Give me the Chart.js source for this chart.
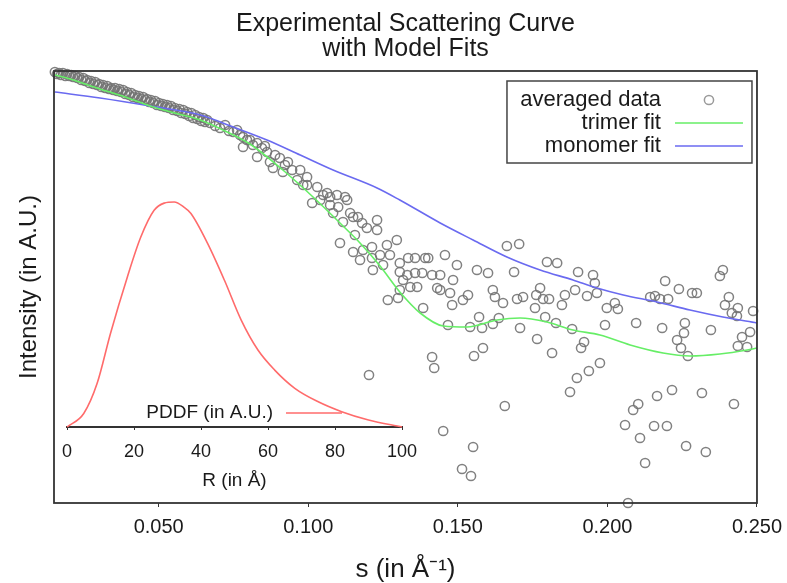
<!DOCTYPE html>
<html>
<head>
<meta charset="utf-8">
<script src="https://cdn.jsdelivr.net/npm/chart.js@4.4.1/dist/chart.umd.min.js"></script>
<style>
  body { margin: 0; background: #fff; }
  #wrap { position: relative; width: 787px; height: 583px; }
  .layer { position: absolute; left: 0; top: 0; width: 787px; height: 583px; }
  #inset { pointer-events: none; }
</style>
</head>
<body>
<div id="wrap">
  <div class="layer"><canvas id="graph"></canvas></div>
  <div class="layer" id="inset"><canvas id="pddf"></canvas></div>
</div>
<script>
// scattering vector s (1/Å) and averaged intensity (A.U.)
const avgS = [
  0.0153, 0.0160, 0.0167, 0.0173, 0.0180, 0.0188, 0.0194, 0.0201, 0.0208, 0.0214,
  0.0221, 0.0228, 0.0234, 0.0241, 0.0248, 0.0254, 0.0261, 0.0268, 0.0274, 0.0281,
  0.0288, 0.0294, 0.0301, 0.0308, 0.0314, 0.0321, 0.0328, 0.0334, 0.0341, 0.0348,
  0.0354, 0.0361, 0.0368, 0.0374, 0.0381, 0.0388, 0.0394, 0.0401, 0.0408, 0.0414,
  0.0421, 0.0428, 0.0434, 0.0441, 0.0448, 0.0454, 0.0461, 0.0468, 0.0474, 0.0481,
  0.0488, 0.0494, 0.0501, 0.0508, 0.0514, 0.0521, 0.0528, 0.0534, 0.0541, 0.0548,
  0.0554, 0.0562, 0.0569, 0.0575, 0.0582, 0.0589, 0.0595, 0.0602, 0.0609, 0.0615,
  0.0622, 0.0629, 0.0635, 0.0642, 0.0649, 0.0655, 0.0662,
  0.0672, 0.0689, 0.0705, 0.0722, 0.0735, 0.0749, 0.0762, 0.0772, 0.0782, 0.0782,
  0.0795, 0.0805, 0.0815, 0.0829, 0.0829, 0.0845, 0.0855, 0.0862, 0.0872, 0.0882,
  0.0889, 0.0905, 0.0915, 0.0922, 0.0932, 0.0946, 0.0963, 0.0973,
  0.0983, 0.0996, 0.0996, 0.1013, 0.1030, 0.1040, 0.1050, 0.1063, 0.1073, 0.1073,
  0.1083, 0.1096, 0.1100, 0.1106, 0.1116, 0.1123, 0.1130, 0.1140, 0.1150, 0.1150,
  0.1156, 0.1166, 0.1173, 0.1180, 0.1183, 0.1196, 0.1203, 0.1213, 0.1213, 0.1216,
  0.1230, 0.1230, 0.1240, 0.1250, 0.1263, 0.1266, 0.1273, 0.1296, 0.1300, 0.1306,
  0.1306, 0.1306, 0.1317, 0.1331, 0.1334, 0.1341, 0.1357, 0.1357, 0.1364, 0.1381,
  0.1384, 0.1391, 0.1401, 0.1414, 0.1414, 0.1421, 0.1431, 0.1441, 0.1441, 0.1451,
  0.1457, 0.1467, 0.1474, 0.1481, 0.1484, 0.1497,
  0.1514, 0.1517, 0.1534, 0.1541, 0.1544, 0.1551, 0.1554, 0.1564, 0.1571, 0.1581,
  0.1584, 0.1601, 0.1617, 0.1617, 0.1624, 0.1637, 0.1651, 0.1657, 0.1664, 0.1688,
  0.1698, 0.1705, 0.1708, 0.1718, 0.1758, 0.1762, 0.1765, 0.1775, 0.1785, 0.1792,
  0.1798, 0.1805, 0.1815, 0.1828, 0.1832, 0.1848, 0.1858, 0.1875, 0.1882, 0.1892,
  0.1898, 0.1902, 0.1912, 0.1922, 0.1932, 0.1938, 0.1952, 0.1958, 0.1965, 0.1975,
  0.1992, 0.1998, 0.2025, 0.2035, 0.2059, 0.2069, 0.2086, 0.2096, 0.2103, 0.2109,
  0.2126, 0.2143, 0.2159, 0.2156, 0.2166, 0.2176, 0.2183, 0.2193, 0.2199, 0.2203,
  0.2216, 0.2233, 0.2239, 0.2246, 0.2256, 0.2259, 0.2263, 0.2269, 0.2283, 0.2299,
  0.2316, 0.2329, 0.2346, 0.2376, 0.2386, 0.2393, 0.2406, 0.2416, 0.2423, 0.2433,
  0.2436, 0.2436, 0.2450, 0.2467, 0.2477, 0.2487
];
const avgI = [
  431, 429, 430, 428, 430, 427, 429, 427, 428, 426,
  427, 425, 426, 423, 425, 422, 423, 420, 422, 419,
  421, 418, 419, 416, 418, 415, 417, 414, 415, 413,
  415, 412, 414, 411, 413, 409, 411, 408, 410, 406,
  408, 405, 407, 404, 406, 403, 404, 401, 403, 400,
  402, 398, 400, 397, 399, 396, 398, 395, 397, 393,
  395, 392, 394, 390, 393, 389, 391, 387, 390, 385,
  388, 384, 386, 382, 385, 381, 383,
  380, 377, 375, 378, 372, 371, 373, 368, 366, 356,
  363, 363, 358, 360, 346, 355, 357, 351, 341, 335,
  348, 345, 331, 338, 341, 333, 323, 333,
  318, 326, 318, 300, 316, 303, 308, 310, 306, 298,
  290, 308, 296, 260, 281, 306, 303, 290, 286, 251,
  268, 286, 243, 280, 253, 275, 128, 256, 245, 233,
  273, 283, 248, 238, 258, 203, 248, 263, 205, 240,
  231, 213, 223, 228, 245, 216, 245, 230, 216, 230,
  195, 245, 245, 228, 146, 135, 215, 228, 213, 72,
  248, 178, 210, 198, 223, 238,
  34, 203, 208, 176, 27, 56, 147, 233, 186, 175,
  155, 230, 213, 179, 206, 185, 200, 97, 257, 231,
  204, 259, 175, 206, 195, 208, 164, 215, 204, 186,
  241, 204, 150, 180, 240, 198, 208, 111, 174, 213,
  125, 231, 155, 161, 207, 132, 228, 220, 210, 140,
  178, 195, 200, 194, 78, 0, 93, 180, 99, 65,
  40, 206, 207, 77, 107, 204, 175, 222, 77, 204,
  113, 163, 214, 155, 170, 180, 57, 147, 210, 210,
  110, 51, 173, 227, 233, 198, 206, 190, 99, 187,
  195, 157, 166, 156, 171, 192
];

const trimerS = [0.0153, 0.0204, 0.0254, 0.0304, 0.0388, 0.0471, 0.0554, 0.0639, 0.0722, 0.0805,
  0.0915, 0.1016, 0.1106, 0.1173, 0.1240, 0.1306, 0.1374, 0.1451, 0.1531, 0.1631,
  0.1708, 0.1798, 0.1885, 0.1975, 0.2076, 0.2186, 0.2276, 0.2376, 0.2467, 0.2500];
const trimerI = [428, 424, 419, 414, 406, 397, 390, 383, 372, 359,
  333, 306, 280, 260, 237, 211, 190, 177, 176, 183,
  185, 181, 173, 168, 158, 150, 147, 149, 153, 155];

const monomerS = [0.0153, 0.0304, 0.0471, 0.0639, 0.0749, 0.0862, 0.0973, 0.1083, 0.1230, 0.1306,
  0.1441, 0.1551, 0.1664, 0.1775, 0.1885, 0.1965, 0.2053, 0.2166, 0.2276, 0.2386, 0.2500];
const monomerI = [411, 405, 397, 388, 376, 363, 348, 333, 315, 303,
  280, 263, 246, 233, 223, 215, 208, 201, 193, 186, 180];

const sTicks = [0.05, 0.10, 0.15, 0.20, 0.25];

// pair distance distribution
const pddfR = [0, 5, 9, 13, 18, 22, 26, 29, 32, 35, 37, 42, 47, 52, 57, 62, 68, 75, 82, 90, 100];
const pddfP = [0, 6, 19.4, 41.7, 66.6, 84.3, 96.3, 99.5, 100, 97.6, 94.9, 81.5, 65.2, 47.5, 34.2, 25.3, 17.2, 11.2, 6.8, 3.1, 0];
const rTicks = [0, 20, 40, 60, 80, 100];

const toXY = (xs, ys) => xs.map((x, i) => ({ x: x, y: ys[i] }));

Chart.defaults.font.family = "'Liberation Sans', Arial, sans-serif";
Chart.defaults.color = '#1a1a1a';

// gnuplot style key: text right aligned, sample to the right
const keyPlugin = {
  id: 'key',
  afterDraw(chart, args, o) {
    const ctx = chart.ctx, area = chart.chartArea;
    const left = o.fromRight ? area.right - o.fromRight : area.left + o.left;
    const top = o.fromBottom ? area.bottom - o.fromBottom : area.top + o.top;
    ctx.save();
    if (o.frame) {
      ctx.strokeStyle = '#444';
      ctx.lineWidth = 1.5;
      ctx.strokeRect(left, top, o.width, o.height);
    }
    ctx.font = o.fontSize + "px 'Liberation Sans', Arial, sans-serif";
    ctx.textAlign = 'right';
    ctx.textBaseline = 'middle';
    chart.data.datasets.forEach((ds, i) => {
      const y = top + o.firstRow + i * o.rowGap;
      ctx.fillStyle = '#1a1a1a';
      ctx.fillText(ds.label, left + o.textRight, y);
      ctx.strokeStyle = ds.showLine ? ds.borderColor : '#9a9a9a';
      ctx.lineWidth = ds.borderWidth;
      ctx.beginPath();
      if (ds.showLine) {
        ctx.moveTo(left + o.symLeft, y);
        ctx.lineTo(left + o.symRight, y);
      } else {
        ctx.arc(left + (o.symLeft + o.symRight) / 2, y, ds.pointRadius, 0, Math.PI * 2);
      }
      ctx.stroke();
    });
    ctx.restore();
  }
};

const framePlugin = {
  id: 'frame',
  afterDraw(chart) {
    const ctx = chart.ctx, a = chart.chartArea;
    ctx.save();
    ctx.strokeStyle = '#333';
    ctx.lineWidth = 1.8;
    ctx.strokeRect(a.left, a.top, a.right - a.left, a.bottom - a.top);
    ctx.restore();
  }
};

new Chart(document.getElementById('graph'), {
  type: 'scatter',
  data: {
    datasets: [{
      label: 'averaged data',
      data: toXY(avgS, avgI),
      showLine: false,
      pointStyle: 'circle',
      pointRadius: 4.6,
      borderWidth: 1.5,
      borderColor: 'rgba(115,115,115,0.9)',
      backgroundColor: 'rgba(0,0,0,0)',
      clip: false,
      order: 3
    }, {
      label: 'trimer fit',
      data: toXY(trimerS, trimerI),
      showLine: true,
      pointRadius: 0,
      borderWidth: 1.6,
      borderColor: '#66ee66',
      cubicInterpolationMode: 'monotone',
      order: 1
    }, {
      label: 'monomer fit',
      data: toXY(monomerS, monomerI),
      showLine: true,
      pointRadius: 0,
      borderWidth: 1.6,
      borderColor: '#6a6af0',
      cubicInterpolationMode: 'monotone',
      order: 2
    }]
  },
  options: {
    responsive: true,
    maintainAspectRatio: false,
    animation: false,
    layout: { padding: { left: 0, right: 30, top: 0, bottom: 0 } },
    scales: {
      x: {
        type: 'linear',
        min: 0.015,
        max: 0.25,
        afterBuildTicks: s => { s.ticks = sTicks.map(v => ({ value: v })); },
        afterFit: s => { s.height = 80; },
        ticks: { font: { size: 20, lineHeight: 1.5 }, padding: 5, maxRotation: 0, callback: v => v.toFixed(3) },
        grid: { display: true, drawOnChartArea: false, tickLength: 4, color: '#333' },
        border: { display: false },
        title: { display: true, text: 's (in Å⁻¹)', font: { size: 26 }, padding: { top: 0, bottom: -2 } }
      },
      y: {
        min: 0,
        max: 432,
        afterFit: s => { s.width = 54; },
        ticks: { display: false },
        grid: { display: false },
        border: { display: false },
        title: { display: true, text: 'Intensity (in A.U.)', font: { size: 24 }, padding: { top: 15, bottom: 0 } }
      }
    },
    plugins: {
      legend: { display: false },
      tooltip: { enabled: false },
      title: {
        display: true,
        fullSize: false,
        text: ['Experimental Scattering Curve', 'with Model Fits'],
        font: { size: 25, weight: 'normal', lineHeight: 1.0 },
        color: '#1a1a1a',
        padding: { top: 12, bottom: 9 }
      },
      key: {
        frame: true, fromRight: 250, top: 10, width: 245, height: 82,
        textRight: 154, symLeft: 168, symRight: 236, firstRow: 19, rowGap: 23, fontSize: 22
      }
    }
  },
  plugins: [framePlugin, keyPlugin]
});

new Chart(document.getElementById('pddf'), {
  type: 'scatter',
  data: {
    datasets: [{
      label: 'PDDF (in A.U.)',
      data: toXY(pddfR, pddfP),
      showLine: true,
      pointRadius: 0,
      borderWidth: 1.6,
      borderColor: '#ff6b6b',
      cubicInterpolationMode: 'monotone',
      clip: false
    }]
  },
  options: {
    responsive: true,
    maintainAspectRatio: false,
    animation: false,
    layout: { padding: { left: 67, right: 385, top: 202, bottom: 91 } },
    scales: {
      x: {
        type: 'linear',
        min: 0,
        max: 100,
        afterBuildTicks: s => { s.ticks = rTicks.map(v => ({ value: v })); },
        afterFit: s => { s.height = 65; },
        ticks: { font: { size: 18 }, padding: 11, maxRotation: 0 },
        grid: { display: true, drawOnChartArea: false, tickLength: 3, color: '#333' },
        border: { display: true, color: '#333', width: 2 },
        title: { display: true, text: 'R (in Å)', font: { size: 19 }, padding: 0 }
      },
      y: { display: false, min: 0, max: 100 }
    },
    plugins: {
      legend: { display: false },
      tooltip: { enabled: false },
      key: {
        frame: false, left: 0, fromBottom: 14, width: 0, height: 0,
        textRight: 206, symLeft: 219, symRight: 275, firstRow: 0, rowGap: 0, fontSize: 19
      }
    }
  },
  plugins: [keyPlugin]
});
</script>
</body>
</html>
